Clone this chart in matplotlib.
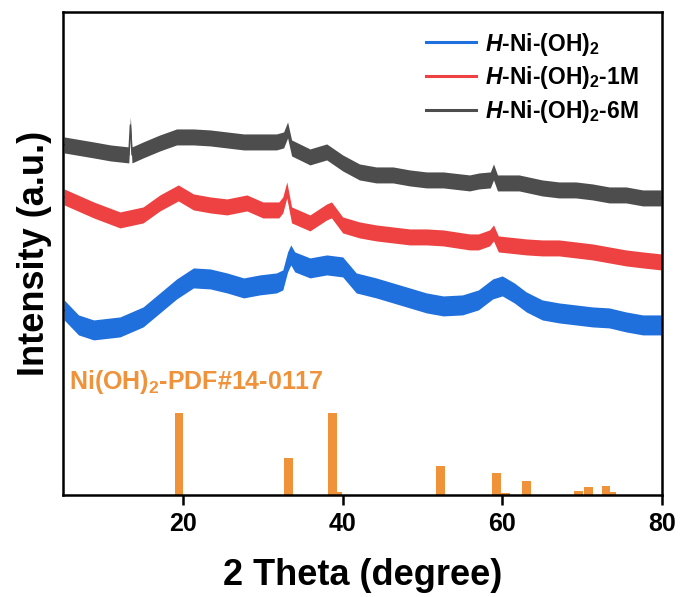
import matplotlib
matplotlib.use('Agg')
import matplotlib.pyplot as plt
from matplotlib.lines import Line2D
import numpy as np

plt.rcParams['font.family'] = ['Liberation Sans', 'DejaVu Sans']
plt.rcParams['font.weight'] = 'bold'
plt.rcParams['mathtext.fontset'] = 'custom'
plt.rcParams['mathtext.rm'] = 'Liberation Sans:bold'
plt.rcParams['mathtext.bf'] = 'Liberation Sans:bold'
plt.rcParams['mathtext.it'] = 'Liberation Sans:italic:bold'

# XRD patterns (a.u.)
tt_6m = [5.1, 8.8, 10.9, 13.2, 13.4, 13.6, 15.0, 17.1, 19.2, 21.3, 23.4, 25.5, 27.6, 29.6,
         31.7, 32.6, 33.1, 33.6, 35.9, 38.0, 40.0, 42.1, 44.2, 46.3, 48.4, 50.5, 52.6,
         55.9, 57.1, 58.5, 58.9, 59.4, 62.1, 65.0, 67.1, 69.2, 71.3, 73.4, 75.5, 77.6, 79.9]
int_6m = [350, 345, 342, 340, 370, 340, 345, 352, 358, 358, 357, 355, 353, 353,
          353, 355, 365, 347, 338, 343, 332, 323, 320, 320, 317, 315, 315,
          312, 314, 315, 323, 312, 312, 307, 305, 305, 303, 300, 300, 297, 297]

tt_1m = [5.1, 8.8, 12.1, 15.0, 17.1, 19.4, 21.3, 23.4, 25.5, 28.0, 30.0, 32.0, 32.5,
         33.0, 33.6, 35.9, 38.0, 38.6, 40.0, 42.1, 44.2, 46.3, 48.4, 50.5, 52.6, 55.9,
         57.0, 58.4, 58.9, 59.5, 63.0, 65.0, 67.1, 69.2, 71.3, 73.4, 75.5, 77.6, 79.9]
int_1m = [298, 285, 275, 280, 292, 302, 293, 290, 288, 292, 285, 285, 290,
          305, 280, 272, 283, 285, 270, 265, 262, 260, 258, 258, 257, 253,
          253, 257, 262, 251, 248, 247, 247, 245, 243, 240, 237, 235, 233]

tt_h = [5.1, 6.9, 8.8, 12.1, 15.0, 17.1, 19.2, 21.3, 23.4, 25.5, 27.6, 29.6, 31.7,
        32.5, 33.1, 33.5, 34.0, 35.9, 38.0, 40.0, 41.7, 44.2, 46.3, 48.4, 50.5, 52.6,
        55.0, 57.0, 58.8, 60.0, 61.5, 63.0, 65.0, 67.1, 69.2, 71.3, 73.4, 75.5, 77.6, 79.9]
int_h = [185, 170, 165, 168, 178, 192, 206, 217, 216, 212, 207, 210, 212,
         215, 233, 240, 233, 227, 230, 228, 212, 207, 202, 197, 192, 189,
         190, 195, 206, 209, 202, 193, 185, 182, 180, 178, 177, 173, 170, 170]

# noise band half-width of each pattern
noise = {'h': 10, '1m': 8, '6m': 8}

# standard card Ni(OH)2 PDF#14-0117
ref_tt = [19.5, 33.2, 38.7, 39.4, 52.3, 59.3, 60.4, 63.0, 69.5, 70.8, 73.0, 73.7]
ref_int = [82, 37, 82, 3, 29, 22, 2, 14, 4, 8, 9, 3]

c_h = '#1f6fdc'
c_1m = '#ee4242'
c_6m = '#4d4d4d'
c_ref = '#f0923a'

fig = plt.figure(figsize=(6.81, 5.97), dpi=100)
ax = fig.add_axes([0.093, 0.171, 0.879, 0.809])

for tt, yy, key, col in [(tt_h, int_h, 'h', c_h), (tt_1m, int_1m, '1m', c_1m),
                         (tt_6m, int_6m, '6m', c_6m)]:
    yy = np.array(yy)
    ax.fill_between(tt, yy - noise[key], yy + noise[key], color=col, lw=0)
    ax.plot(tt, yy, color=col, lw=1)

ax.bar(ref_tt, ref_int, width=1.1, color=c_ref, edgecolor='none')
ax.text(5.7, 113, r'Ni(OH)$_2$-PDF#14-0117', color=c_ref, fontsize=18,
        fontweight='bold', va='center', ha='left')

handles = [Line2D([], [], color=c_h, lw=2.2),
           Line2D([], [], color=c_1m, lw=2.2),
           Line2D([], [], color=c_6m, lw=2.2)]
labels = [r'$H$-Ni-(OH)$_2$', r'$H$-Ni-(OH)$_2$-1M', r'$H$-Ni-(OH)$_2$-6M']
ax.legend(handles, labels, loc='upper right', bbox_to_anchor=(0.985, 0.99),
          frameon=False, fontsize=16.5, handlelength=2.2, handletextpad=0.4,
          labelspacing=0.3, borderaxespad=0.2)

ax.set_xlim(5, 80)
ax.set_ylim(0, 483)
ax.set_xticks([20, 40, 60, 80])
ax.set_yticks([])
for lab in ax.get_xticklabels():
    lab.set_fontweight('bold')
ax.tick_params(axis='x', direction='out', length=7, width=1.8, labelsize=18, pad=5)
for sp in ax.spines.values():
    sp.set_linewidth(1.8)

ax.set_xlabel('2 Theta (degree)', fontsize=26, fontweight='bold', labelpad=16)
ax.set_ylabel('Intensity (a.u.)', fontsize=26, fontweight='bold', labelpad=8)

fig.savefig('out.png', dpi=100)
